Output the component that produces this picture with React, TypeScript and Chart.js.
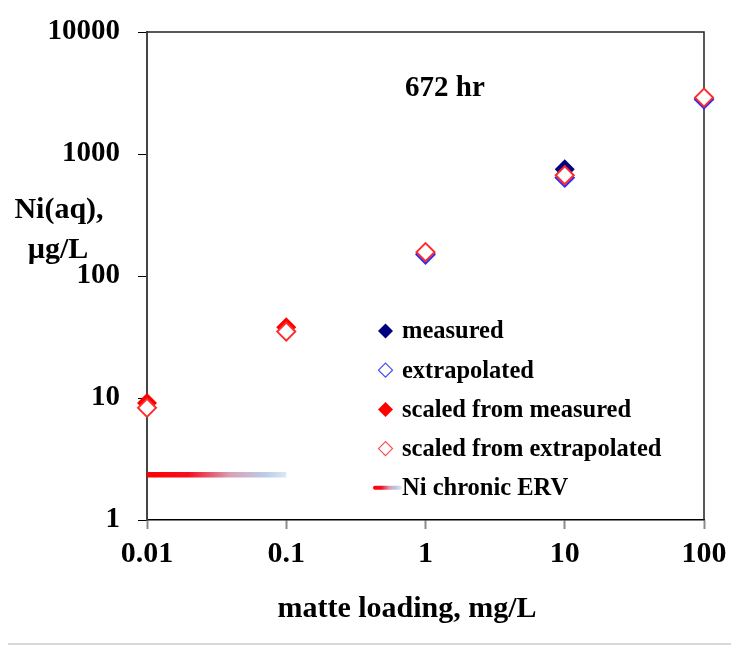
import React, { useEffect, useRef } from 'react';
import { Chart, registerables } from 'chart.js';

Chart.register(...registerables);

const xTicks = [0.01, 0.1, 1, 10, 100];
const xTickLabels = ['0.01', '0.1', '1', '10', '100'];
const yTicks = [1, 10, 100, 1000, 10000];
const yTickLabels = ['1', '10', '100', '1000', '10000'];

const measuredX = [1, 10, 100];
const measuredY = [152, 750, 2820];
const extrapolatedX = [1, 10, 100];
const extrapolatedY = [150, 640, 2800];
const scaledMeasuredX = [0.01, 0.1];
const scaledMeasuredY = [9.1, 38];
const scaledExtrapX = [0.01, 0.1, 1, 10, 100];
const scaledExtrapY = [8.3, 35, 157, 670, 2900];
const ervX = [0.01, 0.1];
const ervY = [2.35, 2.35];

const seriesNames = [
  'measured',
  'extrapolated',
  'scaled from measured',
  'scaled from extrapolated',
  'Ni chronic ERV',
];
const annotationText = '672 hr';
const annotationX = 1.38;
const annotationY = 3470;
const yTitleLines = ['Ni(aq),', '\u00b5g/L'];
const xTitle = 'matte loading, mg/L';

const SERIF = '"Liberation Serif", "Times New Roman", serif';

const toPts = (xs: number[], ys: number[]) => xs.map((x, i) => ({ x, y: ys[i] }));

function diamond(ctx: CanvasRenderingContext2D, x: number, y: number, r: number, fill: string | null, stroke: string | null, lw: number) {
  ctx.beginPath();
  ctx.moveTo(x - r, y);
  ctx.lineTo(x, y - r);
  ctx.lineTo(x + r, y);
  ctx.lineTo(x, y + r);
  ctx.closePath();
  if (fill) {
    ctx.fillStyle = fill;
    ctx.fill();
  }
  if (stroke) {
    ctx.strokeStyle = stroke;
    ctx.lineWidth = lw;
    ctx.stroke();
  }
}

function ervGradient(ctx: CanvasRenderingContext2D, x0: number, x1: number) {
  const g = ctx.createLinearGradient(x0, 0, x1, 0);
  g.addColorStop(0, '#ff0000');
  g.addColorStop(0.3, '#f41020');
  g.addColorStop(0.6, '#d6a2b6');
  g.addColorStop(0.85, '#bccbe9');
  g.addColorStop(1, '#dde6f6');
  return g;
}

const zeroPad = (s: any) => {
  s.paddingTop = 0;
  s.paddingBottom = 0;
  s.paddingLeft = 0;
  s.paddingRight = 0;
};

const framePlugin = {
  id: 'frame',
  beforeDatasetsDraw(chart: any) {
    const { ctx, chartArea: a } = chart;
    ctx.save();
    ctx.strokeStyle = '#222';
    ctx.lineWidth = 1.5;
    ctx.beginPath();
    ctx.moveTo(a.left, a.top);
    ctx.lineTo(a.right, a.top);
    ctx.lineTo(a.right, a.bottom);
    ctx.stroke();
    ctx.restore();
  },
};

const textPlugin = {
  id: 'texts',
  afterDraw(chart: any) {
    const { ctx } = chart;
    const xs = chart.scales.x;
    const ys = chart.scales.y;
    ctx.save();
    ctx.fillStyle = '#000';
    ctx.font = `bold 30px ${SERIF}`;
    ctx.textAlign = 'center';
    ctx.textBaseline = 'alphabetic';
    ctx.fillText(yTitleLines[0], 59, 218);
    ctx.fillText(yTitleLines[1], 58, 258);
    ctx.fillText(xTitle, 407, 617);
    ctx.font = `bold 29px ${SERIF}`;
    ctx.textBaseline = 'middle';
    ctx.fillText(annotationText, xs.getPixelForValue(annotationX), ys.getPixelForValue(annotationY));

    const lx = 385.5;
    const tx = 402;
    const ly0 = 331;
    const dy = 39.2;
    ctx.font = `bold 24.5px ${SERIF}`;
    ctx.textAlign = 'left';
    ctx.textBaseline = 'middle';
    seriesNames.forEach((name, i) => {
      const y = ly0 + i * dy;
      if (i === 0) diamond(ctx, lx, y, 7.5, '#000080', null, 0);
      if (i === 1) diamond(ctx, lx, y, 7, '#ffffff', '#4a4aff', 1.2);
      if (i === 2) diamond(ctx, lx, y, 7.5, '#ff0000', null, 0);
      if (i === 3) diamond(ctx, lx, y, 7, '#ffffff', '#ff4a4a', 1.2);
      if (i === 4) {
        ctx.save();
        ctx.strokeStyle = ervGradient(ctx, 373, 401);
        ctx.lineWidth = 4;
        ctx.lineCap = 'round';
        ctx.beginPath();
        ctx.moveTo(375, y);
        ctx.lineTo(400, y);
        ctx.stroke();
        ctx.restore();
      }
      ctx.fillStyle = '#000';
      ctx.fillText(name, tx, y + 1);
    });

    ctx.strokeStyle = '#d9d9d9';
    ctx.lineWidth = 2;
    ctx.beginPath();
    ctx.moveTo(8, 644);
    ctx.lineTo(731, 644);
    ctx.stroke();
    ctx.restore();
  },
};

export default function App() {
  const ref = useRef<HTMLCanvasElement | null>(null);

  useEffect(() => {
    document.body.style.margin = '0';
    const canvas = ref.current;
    if (!canvas) return;
    const chart = new Chart(canvas, {
      type: 'scatter',
      data: {
        datasets: [
          {
            label: seriesNames[3],
            data: toPts(scaledExtrapX, scaledExtrapY),
            pointStyle: 'rectRot',
            pointRadius: 9,
            borderWidth: 2,
            borderColor: '#ff2a2a',
            backgroundColor: '#ffffff',
            order: 1,
            clip: false,
          } as any,
          {
            label: seriesNames[1],
            data: toPts(extrapolatedX, extrapolatedY),
            pointStyle: 'rectRot',
            pointRadius: 9,
            borderWidth: 2,
            borderColor: '#2a2aff',
            backgroundColor: '#ffffff',
            order: 2,
            clip: false,
          },
          {
            label: seriesNames[2],
            data: toPts(scaledMeasuredX, scaledMeasuredY),
            pointStyle: 'rectRot',
            pointRadius: 10,
            borderWidth: 0,
            backgroundColor: '#ff0000',
            borderColor: '#ff0000',
            order: 3,
            clip: false,
          },
          {
            label: seriesNames[0],
            data: toPts(measuredX, measuredY),
            pointStyle: 'rectRot',
            pointRadius: 10,
            borderWidth: 0,
            backgroundColor: '#000080',
            borderColor: '#000080',
            order: 4,
            clip: false,
          },
          {
            label: seriesNames[4],
            data: toPts(ervX, ervY),
            showLine: true,
            pointRadius: 0,
            borderWidth: 5.5,
            borderCapStyle: 'butt',
            borderColor: (c: any) => {
              const ch = c.chart;
              const sx = ch.scales && ch.scales.x;
              if (!sx || !ch.chartArea) return '#ff0000';
              const x0 = sx.getPixelForValue(ervX[0]);
              const x1 = sx.getPixelForValue(ervX[1]);
              if (!isFinite(x0) || !isFinite(x1) || x1 <= x0) return '#ff0000';
              return ervGradient(ch.ctx, x0, x1);
            },
            order: 5,
            clip: false,
          } as any,
        ],
      },
      options: {
        animation: false,
        responsive: false,
        events: [],
        layout: { padding: { top: 32, right: 27, bottom: 0, left: 0 } },
        plugins: {
          legend: { display: false },
          tooltip: { enabled: false },
        },
        scales: {
          x: {
            type: 'logarithmic',
            min: 0.01,
            max: 100,
            afterBuildTicks: (s: any) => {
              s.ticks = xTicks.map((v) => ({ value: v }));
            },
            afterFit: (s: any) => {
              s.height = 128;
              zeroPad(s);
            },
            ticks: {
              autoSkip: false,
              maxRotation: 0,
              padding: 7,
              color: '#000',
              font: { family: SERIF, size: 30, weight: 'bold' },
              callback: (_v: any, i: number) => xTickLabels[i],
            },
            grid: {
              drawOnChartArea: false,
              drawTicks: true,
              tickLength: 9,
              tickColor: '#8c8c8c',
              tickWidth: 2,
            },
            border: { display: true, color: '#000', width: 1.5 },
          },
          y: {
            type: 'logarithmic',
            min: 1,
            max: 10000,
            afterBuildTicks: (s: any) => {
              s.ticks = yTicks.map((v) => ({ value: v }));
            },
            afterFit: (s: any) => {
              s.width = 147;
              zeroPad(s);
            },
            ticks: {
              autoSkip: false,
              padding: 18,
              color: '#000',
              font: { family: SERIF, size: 29, weight: 'bold' },
              callback: (_v: any, i: number) => yTickLabels[i],
            },
            grid: {
              drawOnChartArea: false,
              drawTicks: true,
              tickLength: 9,
              tickColor: '#000',
              tickWidth: 1,
            },
            border: { display: true, color: '#454545', width: 2 },
          },
        },
      },
      plugins: [framePlugin, textPlugin],
    } as any);
    return () => chart.destroy();
  }, []);

  return (
    <div style={{ width: 731, height: 648, background: '#fff' }}>
      <canvas ref={ref} width={731} height={648} style={{ display: 'block' }} />
    </div>
  );
}
